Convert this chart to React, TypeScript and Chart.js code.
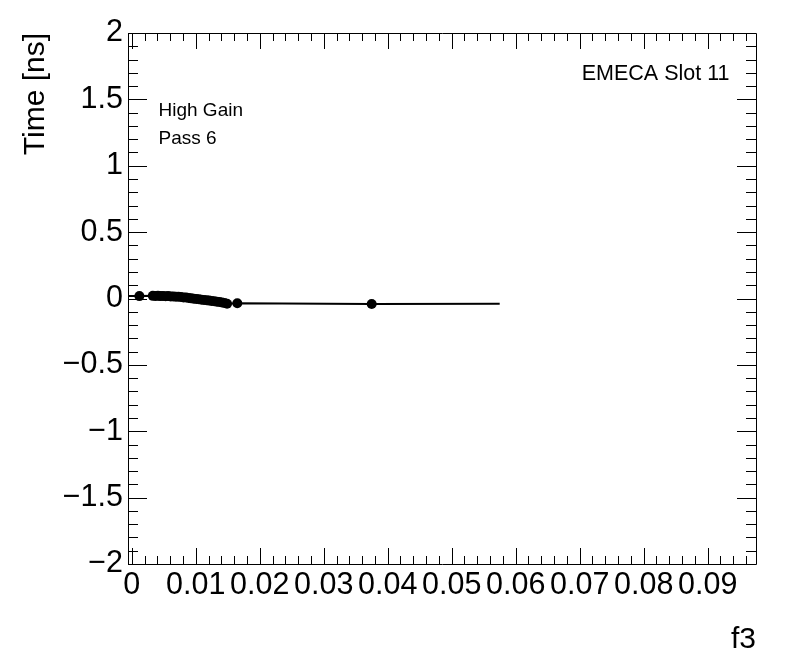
import React, { useEffect, useRef } from "react";
import { Chart, registerables } from "chart.js";

Chart.register(...registerables);

// ---- data ----
const xPoints = [
  0.0012, 0.0033, 0.0037, 0.0041, 0.0045, 0.0049, 0.0053, 0.0057, 0.0061, 0.0065,
  0.0069, 0.0073, 0.0077, 0.0081, 0.0085, 0.0089, 0.0093, 0.0097, 0.0101, 0.0105,
  0.0109, 0.0113, 0.0117, 0.0121, 0.0125, 0.0129, 0.0133, 0.0137, 0.0141, 0.0145,
  0.0149, 0.0165, 0.0375,
];
const yPoints = [
  0.018, 0.020, 0.019, 0.020, 0.018, 0.019, 0.017, 0.018, 0.016, 0.016,
  0.014, 0.013, 0.011, 0.008, 0.007, 0.004, 0.001, -0.001, -0.004, -0.006,
  -0.009, -0.011, -0.013, -0.016, -0.019, -0.021, -0.024, -0.026, -0.030, -0.034,
  -0.040, -0.036, -0.041,
];
const lineStart = { x: -0.00058, y: 0.018 };
const lineEnd = { x: 0.0575, y: -0.040 };

const xTickValues = [0, 0.01, 0.02, 0.03, 0.04, 0.05, 0.06, 0.07, 0.08, 0.09];
const xTickLabels = ["0", "0.01", "0.02", "0.03", "0.04", "0.05", "0.06", "0.07", "0.08", "0.09"];
const yTickValues = [-2, -1.5, -1, -0.5, 0, 0.5, 1, 1.5, 2];
const yTickLabels = ["\u22122", "\u22121.5", "\u22121", "\u22120.5", "0", "0.5", "1", "1.5", "2"];

const xMin = -0.00058;
const xMax = 0.09755;
const yMin = -2;
const yMax = 2;
const xMinorStep = 0.002;
const yMinorStep = 0.1;

const xTitle = "f3";
const yTitle = "Time [ns]";
const labelTopRight = "EMECA Slot 11";
const labelLines = ["High Gain", "Pass 6"];

const FONT = '"Liberation Sans", Arial, Helvetica, sans-serif';

const rootFrame = {
  id: "rootFrame",
  afterDatasetsDraw(chart: any) {
    const { ctx, chartArea, scales } = chart;
    const { left, right, top, bottom } = chartArea;
    const xs = scales.x;
    const ys = scales.y;
    ctx.save();
    ctx.strokeStyle = "#000";
    ctx.lineWidth = 1;
    ctx.beginPath();
    ctx.rect(Math.round(left) + 0.5, Math.round(top) + 0.5, Math.round(right - left), Math.round(bottom - top));
    ctx.stroke();

    const vTick = (px: number, len: number) => {
      const p = Math.round(px) + 0.5;
      ctx.moveTo(p, bottom);
      ctx.lineTo(p, bottom - len);
      ctx.moveTo(p, top);
      ctx.lineTo(p, top + len);
    };
    const hTick = (py: number, len: number) => {
      const p = Math.round(py) + 0.5;
      ctx.moveTo(left, p);
      ctx.lineTo(left + len, p);
      ctx.moveTo(right, p);
      ctx.lineTo(right - len, p);
    };
    ctx.beginPath();
    const nx = Math.round(xMax / xMinorStep);
    for (let i = 0; i <= nx; i++) {
      const v = i * xMinorStep;
      if (v > xMax) break;
      const major = i % 5 === 0;
      vTick(xs.getPixelForValue(v), major ? 16 : 8);
    }
    const ny = Math.round((yMax - yMin) / yMinorStep);
    for (let i = 0; i <= ny; i++) {
      const v = yMin + i * yMinorStep;
      const major = i % 5 === 0;
      hTick(ys.getPixelForValue(v), major ? 19 : 10);
    }
    ctx.stroke();

    ctx.fillStyle = "#000";
    ctx.textBaseline = "alphabetic";
    ctx.font = `21.5px ${FONT}`;
    ctx.textAlign = "right";
    ctx.fillText(labelTopRight, 729.5, 80);
    ctx.font = `19px ${FONT}`;
    ctx.textAlign = "left";
    labelLines.forEach((t, i) => ctx.fillText(t, 158.5, 115.5 + i * 28.5));
    ctx.restore();
  },
};

export default function App() {
  const ref = useRef<HTMLCanvasElement | null>(null);
  useEffect(() => {
    if (!ref.current) return;
    const markers = xPoints.map((x, i) => ({ x, y: yPoints[i] }));
    const linePts = [lineStart, ...markers, lineEnd];
    const chart = new Chart(ref.current, {
      type: "scatter",
      data: {
        datasets: [
          {
            data: linePts,
            showLine: true,
            borderColor: "#000",
            borderWidth: 2,
            pointRadius: 0,
            pointHoverRadius: 0,
            tension: 0,
          },
          {
            data: markers,
            showLine: false,
            backgroundColor: "#000",
            borderColor: "#000",
            borderWidth: 0,
            pointRadius: 5,
          },
        ],
      },
      options: {
        responsive: false,
        animation: false,
        devicePixelRatio: 1,
        layout: { padding: { top: 33, right: 40, left: 0, bottom: 0 } },
        plugins: { legend: { display: false }, tooltip: { enabled: false } },
        scales: {
          x: {
            type: "linear",
            min: xMin,
            max: xMax,
            grid: { display: false, drawTicks: false },
            border: { display: false },
            afterBuildTicks: (s: any) => {
              s.ticks = xTickValues.map((v) => ({ value: v }));
            },
            afterFit: (s: any) => {
              s.height = 108;
            },
            ticks: {
              autoSkip: false,
              maxRotation: 0,
              minRotation: 0,
              padding: 3,
              color: "#000",
              font: { family: FONT, size: 30.5 },
              callback: (_v: any, i: number) => xTickLabels[i],
            },
            title: {
              display: true,
              text: xTitle,
              align: "end",
              color: "#000",
              font: { family: FONT, size: 30 },
              padding: { top: 0, bottom: 14 },
            },
          },
          y: {
            type: "linear",
            min: yMin,
            max: yMax,
            grid: { display: false, drawTicks: false },
            border: { display: false },
            afterBuildTicks: (s: any) => {
              s.ticks = yTickValues.map((v) => ({ value: v }));
            },
            afterFit: (s: any) => {
              s.width = 128;
            },
            ticks: {
              autoSkip: false,
              padding: 5,
              color: "#000",
              font: { family: FONT, size: 30.5 },
              callback: (_v: any, i: number) => yTickLabels[i],
            },
            title: {
              display: true,
              text: yTitle,
              align: "end",
              color: "#000",
              font: { family: FONT, size: 30 },
              padding: { top: 18, bottom: 0 },
            },
          },
        },
      },
      plugins: [rootFrame],
    });
    return () => chart.destroy();
  }, []);
  return (
    <div style={{ position: "fixed", left: 0, top: 0, width: 796, height: 672, background: "#fff" }}>
      <canvas ref={ref} width={796} height={672} style={{ display: "block" }} />
    </div>
  );
}
